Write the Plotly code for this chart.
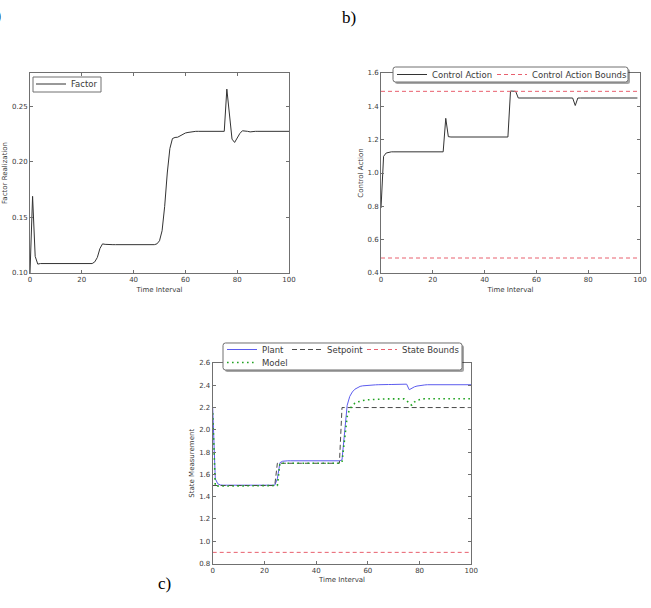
import plotly.graph_objects as go

W, H = 651, 608
FONT = "DejaVu Sans"
TXT = "#3a3a3a"
AX = "#707070"

# ---------------- data ----------------
t_factor = list(range(101))
factor = [
    0.100, 0.169, 0.115, 0.108, 0.1085,
    0.1085, 0.1085, 0.1085, 0.1085, 0.1085, 0.1085, 0.1085, 0.1085, 0.1085, 0.1085,
    0.1085, 0.1085, 0.1085, 0.1085, 0.1085, 0.1085, 0.1085, 0.1085, 0.1085, 0.1085,
    0.110, 0.114, 0.122, 0.1262, 0.1258,
    0.1255, 0.1255, 0.1255, 0.1255, 0.1255, 0.1255, 0.1255, 0.1255, 0.1255, 0.1255,
    0.1255, 0.1255, 0.1255, 0.1255, 0.1255, 0.1255, 0.1255, 0.1255, 0.1255,
    0.1262, 0.129, 0.138, 0.160, 0.190, 0.212, 0.221, 0.222, 0.2222, 0.2235,
    0.225, 0.226, 0.2265, 0.227,
    0.2275, 0.2275, 0.2275, 0.2275, 0.2275, 0.2275, 0.2275, 0.2275, 0.2275, 0.2275,
    0.2275, 0.2275, 0.2275,
    0.2655, 0.245, 0.2205, 0.2175, 0.2215, 0.2255, 0.228, 0.228, 0.2275, 0.227,
    0.2275, 0.2275, 0.2275, 0.2275, 0.2275, 0.2275, 0.2275, 0.2275, 0.2275, 0.2275,
    0.2275, 0.2275, 0.2275, 0.2275, 0.2275,
]

t_control = list(range(100))
control = [
    0.79, 1.10, 1.12, 1.125,
    1.127, 1.127, 1.127, 1.127, 1.127, 1.127, 1.127, 1.127, 1.127, 1.127, 1.127,
    1.127, 1.127, 1.127, 1.127, 1.127, 1.127, 1.127, 1.127, 1.127, 1.127,
    1.328, 1.218,
    1.216, 1.216, 1.216, 1.216, 1.216, 1.216, 1.216, 1.216, 1.216, 1.216, 1.216,
    1.216, 1.216, 1.216, 1.216, 1.216, 1.216, 1.216, 1.216, 1.216, 1.216, 1.216, 1.216,
    1.492, 1.492, 1.490, 1.450,
    1.450, 1.450, 1.450, 1.450, 1.450, 1.450, 1.450, 1.450, 1.450, 1.450, 1.450,
    1.450, 1.450, 1.450, 1.450, 1.450, 1.450, 1.450, 1.450, 1.450, 1.450,
    1.405,
    1.450, 1.450, 1.450, 1.450, 1.450, 1.450, 1.450, 1.450, 1.450, 1.450, 1.450, 1.450,
    1.450, 1.450, 1.450, 1.450, 1.450, 1.450, 1.450, 1.450, 1.450, 1.450, 1.450, 1.450,
]
control_bounds = [0.49, 1.49]
control_bounds_t = [0, 99]

t_state = list(range(101))
plant = [
    2.20, 1.56, 1.515, 1.505,
    1.503, 1.503, 1.503, 1.503, 1.503, 1.503, 1.503, 1.503, 1.503, 1.503, 1.503,
    1.503, 1.503, 1.503, 1.503, 1.503, 1.503, 1.503, 1.503, 1.503, 1.503,
    1.56, 1.705, 1.718,
    1.722, 1.722, 1.722, 1.722, 1.722, 1.722, 1.722, 1.722, 1.722, 1.722, 1.722,
    1.722, 1.722, 1.722, 1.722, 1.722, 1.722, 1.722, 1.722, 1.722, 1.722, 1.722,
    1.73, 2.00, 2.22, 2.30, 2.34, 2.365, 2.38, 2.39, 2.395, 2.398, 2.40, 2.401,
    2.403, 2.404, 2.405,
    2.407, 2.407, 2.407, 2.407, 2.407, 2.407, 2.408, 2.408, 2.409, 2.409, 2.41,
    2.36, 2.375, 2.386, 2.393, 2.398, 2.401, 2.403,
    2.405, 2.405, 2.405, 2.405, 2.405, 2.405, 2.405, 2.405, 2.405, 2.405, 2.405,
    2.405, 2.405, 2.405, 2.405, 2.405, 2.405, 2.405,
]
model = [
    2.15, 1.495,
    1.495, 1.495, 1.495, 1.495, 1.495, 1.495, 1.495, 1.495, 1.495, 1.495, 1.495,
    1.495, 1.495, 1.495, 1.495, 1.495, 1.495, 1.495, 1.495, 1.495, 1.495, 1.495, 1.495,
    1.50, 1.70,
    1.70, 1.70, 1.70, 1.70, 1.70, 1.70, 1.70, 1.70, 1.70, 1.70, 1.70, 1.70,
    1.70, 1.70, 1.70, 1.70, 1.70, 1.70, 1.70, 1.70, 1.70, 1.70, 1.70,
    1.71, 1.93, 2.12, 2.19, 2.22, 2.24, 2.25, 2.258, 2.264, 2.268, 2.27, 2.272,
    2.274, 2.276,
    2.278, 2.278, 2.278, 2.278, 2.278, 2.278, 2.278, 2.278, 2.278, 2.278, 2.278,
    2.265, 2.235, 2.222, 2.25, 2.265, 2.273, 2.277,
    2.279, 2.279, 2.279, 2.279, 2.279, 2.279, 2.279, 2.279, 2.279, 2.279, 2.279,
    2.279, 2.279, 2.279, 2.279, 2.279, 2.279, 2.279, 2.279,
]
setpoint_t = [0, 24, 25, 49, 50, 100]
setpoint_v = [1.5, 1.5, 1.7, 1.7, 2.2, 2.2]
state_bounds = [0.9]
state_bounds_t = [0, 100]

x_ticks = [0, 20, 40, 60, 80, 100]
a_yticks = [0.10, 0.15, 0.20, 0.25]
b_yticks = [0.4, 0.6, 0.8, 1.0, 1.2, 1.4, 1.6]
c_yticks = [0.8, 1.0, 1.2, 1.4, 1.6, 1.8, 2.0, 2.2, 2.4, 2.6]


def px(x):
    return x / W


def py(y):
    return 1 - y / H


fig = go.Figure()

# a) factor
fig.add_trace(go.Scatter(x=t_factor, y=factor, mode="lines", name="Factor",
                         line=dict(color="#333333", width=1), xaxis="x", yaxis="y",
                         legend="legend"))

# b) control action
fig.add_trace(go.Scatter(x=t_control, y=control, mode="lines", name="Control Action",
                         line=dict(color="#333333", width=1), xaxis="x2", yaxis="y2",
                         legend="legend2", legendwidth=55))
bx, by = [], []
for b in control_bounds:
    bx += [control_bounds_t[0], control_bounds_t[1], None]
    by += [b, b, None]
fig.add_trace(go.Scatter(x=bx, y=by, mode="lines", name="Control Action Bounds",
                         line=dict(color="#e8606e", width=1, dash="4px,3px"),
                         xaxis="x2", yaxis="y2", legend="legend2"))

# c) state
fig.add_trace(go.Scatter(x=t_state, y=plant, mode="lines", name="Plant",
                         line=dict(color="#5c5cee", width=1), xaxis="x3", yaxis="y3",
                         legend="legend3", legendwidth=20))
fig.add_trace(go.Scatter(x=setpoint_t, y=setpoint_v, mode="lines", name="Setpoint",
                         line=dict(color="#4a4a4a", width=1, dash="5px,3px"),
                         xaxis="x3", yaxis="y3", legend="legend3", legendwidth=30))
sx, sy = [], []
for b in state_bounds:
    sx += [state_bounds_t[0], state_bounds_t[1], None]
    sy += [b, b, None]
fig.add_trace(go.Scatter(x=sx, y=sy, mode="lines", name="State Bounds",
                         line=dict(color="#e8606e", width=1, dash="4px,3px"),
                         xaxis="x3", yaxis="y3", legend="legend3"))
fig.add_trace(go.Scatter(x=t_state, y=model, mode="lines", name="Model",
                         line=dict(color="#22a322", width=1.6, dash="1.6px,3.4px"),
                         xaxis="x3", yaxis="y3", legend="legend4"))


def xax(dom, anchor):
    return dict(domain=dom, anchor=anchor, range=[0, 100], tickvals=x_ticks,
                showline=True, linecolor=AX, linewidth=1, mirror="ticks",
                ticks="inside", ticklen=3, tickcolor=AX, tickwidth=1,
                showgrid=False, zeroline=False, automargin=False,
                tickfont=dict(family=FONT, size=7, color=TXT),
                title=dict(text="Time Interval", standoff=3,
                           font=dict(family=FONT, size=7, color=TXT)))


def yax(dom, anchor, rng, ticks, fmt, title):
    return dict(domain=dom, anchor=anchor, range=rng, tickvals=ticks, tickformat=fmt,
                showline=True, linecolor=AX, linewidth=1, mirror="ticks",
                ticks="inside", ticklen=3, tickcolor=AX, tickwidth=1,
                showgrid=False, zeroline=False, automargin=False,
                tickfont=dict(family=FONT, size=7, color=TXT),
                title=dict(text=title, standoff=3,
                           font=dict(family=FONT, size=7, color=TXT)))


leg_font = dict(family=FONT, size=8.5, color=TXT)


def leg(x, y, orient):
    return dict(x=px(x), y=py(y), xanchor="left", yanchor="top", orientation=orient,
                bgcolor="rgba(0,0,0,0)", borderwidth=0, font=leg_font,
                itemwidth=30, tracegroupgap=0, itemclick=False, itemdoubleclick=False)


def rounded(x0, y0, x1, y1, r):
    pts = [
        ("M", x0 + r, y0), ("L", x1 - r, y0), ("Q", x1, y0, x1, y0 + r),
        ("L", x1, y1 - r), ("Q", x1, y1, x1 - r, y1), ("L", x0 + r, y1),
        ("Q", x0, y1, x0, y1 - r), ("L", x0, y0 + r), ("Q", x0, y0, x0 + r, y0),
    ]
    s = ""
    for p in pts:
        cmd = p[0]
        coords = p[1:]
        s += cmd + " " + ",".join(
            f"{px(coords[i]):.5f},{py(coords[i + 1]):.5f}" for i in range(0, len(coords), 2)
        ) + " "
    return s + "Z"


shapes = []
# a) legend box
shapes.append(dict(type="rect", xref="paper", yref="paper", layer="above",
                   x0=px(33), x1=px(101), y0=py(92), y1=py(77),
                   line=dict(color=AX, width=1), fillcolor="white"))
# b) and c) legend boxes with shadow
for (x0, y0, x1, y1) in [(393, 67, 628, 82), (223, 343, 462, 370)]:
    shapes.append(dict(type="path", xref="paper", yref="paper", layer="above",
                       path=rounded(x0 + 2, y0 + 2, x1 + 2, y1 + 2, 2.5),
                       line=dict(width=0), fillcolor="rgba(0,0,0,0.35)"))
    shapes.append(dict(type="path", xref="paper", yref="paper", layer="above",
                       path=rounded(x0, y0, x1, y1, 2.5),
                       line=dict(color=AX, width=1), fillcolor="white"))

lab_font = dict(family="Liberation Serif", size=17, color="black")
annotations = [
    dict(text="a)", x=px(3), y=py(16), xref="paper", yref="paper",
         xanchor="right", yanchor="middle", showarrow=False, font=lab_font),
    dict(text="b)", x=px(340), y=py(17), xref="paper", yref="paper",
         xanchor="left", yanchor="middle", showarrow=False, font=lab_font),
    dict(text="c)", x=px(156), y=py(583), xref="paper", yref="paper",
         xanchor="left", yanchor="middle", showarrow=False, font=lab_font),
]

fig.update_layout(
    width=W, height=H, margin=dict(l=0, r=0, t=0, b=0),
    paper_bgcolor="white", plot_bgcolor="white",
    xaxis=xax([px(30), px(289)], "y"),
    yaxis=yax([py(273), py(73)], "x", [0.10, 0.28], a_yticks, ".2f", "Factor Realization"),
    xaxis2=xax([px(381), px(640)], "y2"),
    yaxis2=yax([py(273), py(73)], "x2", [0.4, 1.6], b_yticks, ".1f", "Control Action"),
    xaxis3=xax([px(212.7), px(471.3)], "y3"),
    yaxis3=yax([py(563.5), py(363)], "x3", [0.8, 2.6], c_yticks, ".1f", "State Measurement"),
    legend=leg(31, 69.5, "v"),
    legend2=leg(392, 60, "h"),
    legend3=leg(222, 335, "h"),
    legend4=leg(222, 348, "h"),
    shapes=shapes,
    annotations=annotations,
    showlegend=True,
)

fig.write_html("out.html")
